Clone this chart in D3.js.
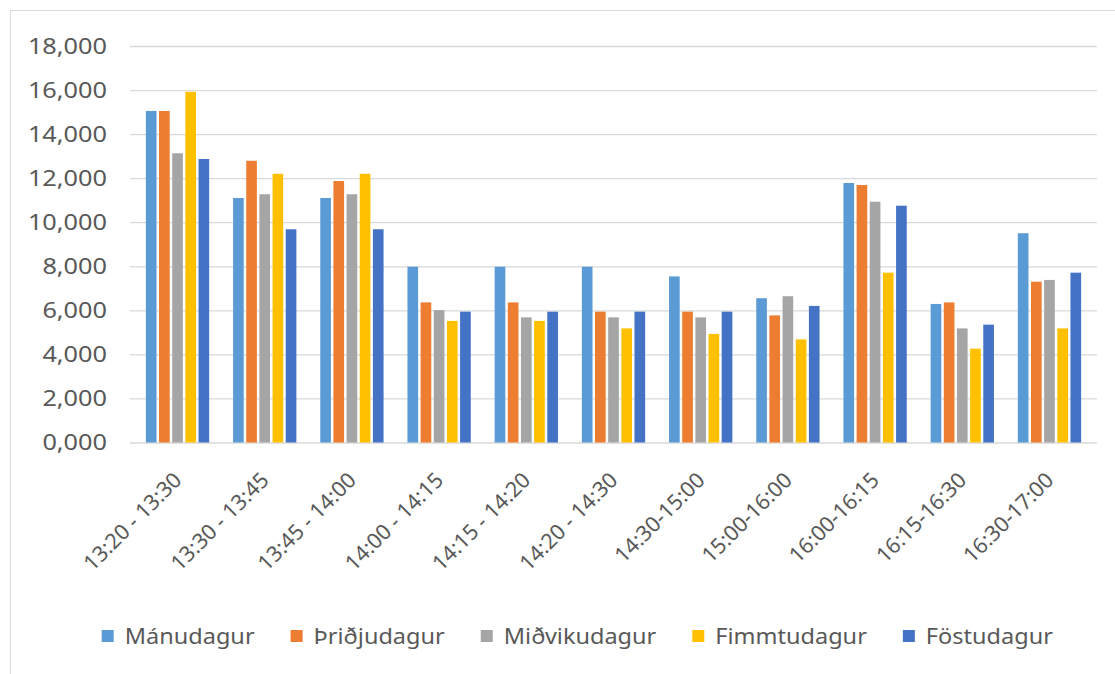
<!DOCTYPE html>
<html>
<head>
<meta charset="utf-8">
<script src="https://cdn.jsdelivr.net/npm/d3@7"></script>
<style>
  body { margin: 0; background: #fff; }
  svg { display: block; }
</style>
</head>
<body>
<svg id="chart" width="1115" height="674"></svg>
<script>
const svgEl = document.getElementById('chart')
const svgWidth = +svgEl.getAttribute('width')
const svgHeight = +svgEl.getAttribute('height')
const svg = d3.select('#chart')

const textColor = '#595959'
const gridColor = '#d9d9d9'
const fontFamily = '"Noto Sans", sans-serif'
const stretch = 1.15 // the reference picture is a bit wider than tall

// data
const timeSlots = ['13:20 - 13:30', '13:30 - 13:45', '13:45 - 14:00', '14:00 - 14:15', '14:15 - 14:20',
  '14:20 - 14:30', '14:30-15:00', '15:00-16:00', '16:00-16:15', '16:15-16:30', '16:30-17:00']
const days = ['Mánudagur', 'Þriðjudagur', 'Miðvikudagur', 'Fimmtudagur', 'Föstudagur']
const colors = ['#5b9bd5', '#ed7d31', '#a5a5a5', '#ffc000', '#4472c4']

const manudagur   = [15.05, 11.10, 11.10, 7.98, 7.98, 7.98, 7.54, 6.55, 11.78, 6.29, 9.50]
const thridjudagur = [15.05, 12.79, 11.87, 6.36, 6.36, 5.94, 5.94, 5.77, 11.69, 6.36, 7.30]
const midvikudagur = [13.13, 11.27, 11.27, 6.01, 5.68, 5.68, 5.68, 6.64, 10.93, 5.18, 7.38]
const fimmtudagur = [15.92, 12.20, 12.20, 5.52, 5.52, 5.18, 4.93, 4.68, 7.71, 4.26, 5.18]
const fostudagur  = [12.87, 9.68, 9.68, 5.94, 5.94, 5.94, 5.94, 6.20, 10.75, 5.35, 7.71]
const seriesValues = [manudagur, thridjudagur, midvikudagur, fimmtudagur, fostudagur]

const yTickValues = [0, 2, 4, 6, 8, 10, 12, 14, 16, 18]

const locale = d3.formatLocale({ decimal: ',', thousands: '.', grouping: [3], currency: ['', ''] })
const fmt = locale.format('.3f')

// frame of the chart area (cropped at right and bottom in the reference)
svg.append('rect')
  .attr('x', 10.5).attr('y', 10.5)
  .attr('width', svgWidth + 20).attr('height', svgHeight + 20)
  .attr('fill', '#fff')
  .attr('stroke', '#d9d9d9')

const plotLeft = 130
const plotRight = 1097

const xScale = d3.scaleBand()
  .domain(timeSlots)
  .range([plotLeft, plotRight])
  .paddingInner(0.274)
  .paddingOuter(0.182)

const xInner = d3.scaleBand()
  .domain(days)
  .range([0, xScale.bandwidth()])
  .paddingInner(0.19)

const yScale = d3.scaleLinear()
  .domain([0, 18])
  .range([442.5, 46])

// gridlines
const yAxis = d3.axisLeft(yScale)
  .tickValues(yTickValues)
  .tickSize(-(plotRight - plotLeft))
  .tickFormat('')

const yG = svg.append('g')
  .attr('transform', `translate(${plotLeft}, 0)`)
  .call(yAxis)
yG.select('path.domain').remove()
yG.selectAll('.tick line').style('stroke', gridColor).style('stroke-width', 1.3)

// y labels
svg.append('g')
  .selectAll('text')
  .data(yTickValues)
  .enter()
  .append('text')
    .attr('transform', d => `translate(107, ${yScale(d)}) scale(${stretch}, 1)`)
    .attr('dy', '0.36em')
    .attr('text-anchor', 'end')
    .style('font-family', fontFamily)
    .style('font-size', '22px')
    .style('fill', textColor)
    .text(d => fmt(d))

// bars
const groups = svg.selectAll('g.slot')
  .data(timeSlots)
  .enter()
  .append('g')
    .attr('class', 'slot')
    .attr('transform', d => `translate(${xScale(d)}, 0)`)

groups.selectAll('rect')
  .data((d, i) => days.map((day, j) => ({ day: day, value: seriesValues[j][i], color: colors[j] })))
  .enter()
  .append('rect')
    .attr('x', d => xInner(d.day))
    .attr('y', d => yScale(d.value))
    .attr('width', xInner.bandwidth())
    .attr('height', d => yScale(0) - yScale(d.value))
    .attr('fill', d => d.color)

// x labels, rotated
svg.append('g')
  .selectAll('text')
  .data(timeSlots)
  .enter()
  .append('text')
    .attr('transform', d => `translate(${xScale(d) + xScale.bandwidth() / 2}, 476) rotate(-45)`)
    .attr('dy', '0.36em')
    .attr('text-anchor', 'end')
    .style('font-family', fontFamily)
    .style('font-size', '21.5px')
    .style('fill', textColor)
    .text(d => d)

// legend
const legendStretch = 1.12
const legenda = svg.append('g').attr('class', 'legend')
let lx = 101.7
days.forEach((day, j) => {
  legenda.append('rect')
    .attr('x', lx).attr('y', 630)
    .attr('width', 12).attr('height', 12)
    .attr('fill', colors[j])
  const t = legenda.append('text')
    .attr('transform', `translate(${lx + 23}, 636) scale(${legendStretch}, 1)`)
    .attr('dy', '0.36em')
    .style('font-family', fontFamily)
    .style('font-size', '21px')
    .style('fill', textColor)
    .text(day)
  lx += 23 + t.node().getComputedTextLength() * legendStretch + 36
})
</script>
</body>
</html>
